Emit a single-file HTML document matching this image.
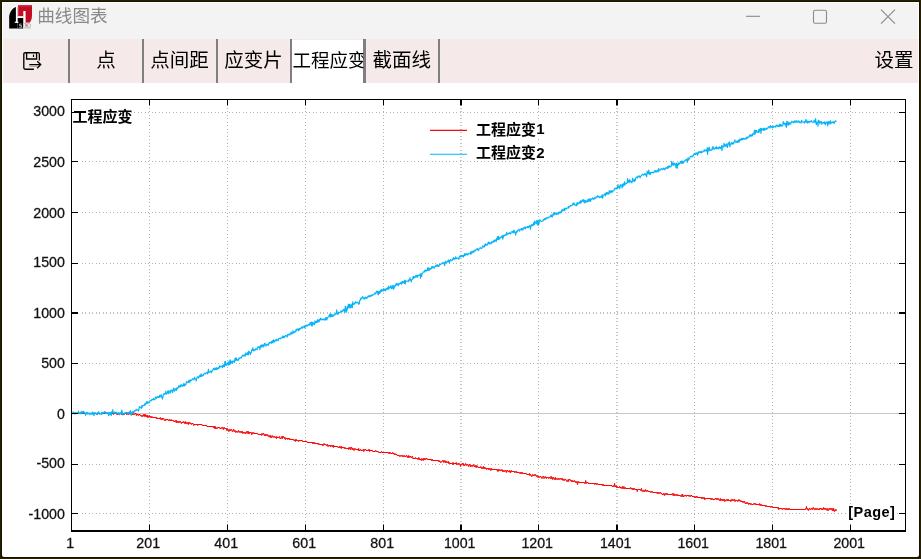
<!DOCTYPE html>
<html><head><meta charset="utf-8"><title>chart</title>
<style>
html,body{margin:0;padding:0;}
body{width:921px;height:559px;overflow:hidden;background:#262000;position:relative;font-family:"Liberation Sans",sans-serif;}
#b1{position:absolute;left:1px;top:1px;width:919px;height:557px;background:#161200;}
#win{position:absolute;left:2px;top:2px;width:917px;height:554.8px;background:#fff;border-radius:0 0 2px 2px;}
#tbar{position:absolute;left:3px;top:3px;width:915px;height:36px;background:#f3f3f3;}
#tool{position:absolute;left:3px;top:39px;width:915px;height:43.5px;background:#f5eae9;}
.sep{position:absolute;top:39px;width:2px;height:43.7px;background:#7f7f7f;}
#sel{position:absolute;left:292px;top:39.6px;width:71.5px;height:43px;background:#fff;}
svg{position:absolute;left:0;top:0;will-change:transform;}
</style></head><body>
<div id="b1"></div><div id="win"></div><div id="tbar"></div><div id="tool"></div>
<div id="sel"></div>
<div class="sep" style="left:68px"></div><div class="sep" style="left:142px"></div><div class="sep" style="left:216px"></div>
<div class="sep" style="left:290px"></div><div class="sep" style="left:363.3px;width:2.7px"></div><div class="sep" style="left:437.5px;width:2.4px"></div>
<svg width="921" height="559" viewBox="0 0 921 559">
<defs>
<clipPath id="cs"><rect x="292" y="39" width="71.4" height="44"/></clipPath>
</defs>
<!-- app icon -->
<g id="appicon">
<path d="M18.2 5H32V15C32 18.5 31.2 21 29.6 22.7H18.2Z" fill="#c30d23"/>
<rect x="18.2" y="5" width="13.8" height="1.5" fill="#cc3344"/>
<path d="M9.2 28.6V16.5C9.6 11.5 12.5 8.2 16 6.9H17.6V28.6Z" fill="#000"/>
<rect x="17.6" y="17.8" width="5.8" height="10.8" fill="#000"/>
<rect x="15.9" y="7" width="1.7" height="15.8" fill="#fff"/>
<rect x="14.8" y="21.7" width="3.6" height="1.2" fill="#fff"/>
<rect x="17.4" y="16.2" width="6.2" height="1.8" fill="#fff"/>
<rect x="23.3" y="11" width="2.3" height="11.8" fill="#fff"/>
<rect x="23.4" y="22.8" width="9" height="6" fill="#f3f3f3"/>
<path d="M21.6 24.1H19.6V25.5H21.4V27.2H19.2" fill="none" stroke="#e8e8e8" stroke-width="0.7"/>
<rect x="18.6" y="27.6" width="4.2" height="0.7" fill="#999"/>
<path d="M24.4 23.6H26.4V25.3H25.2H26.4V27.2H24.4M27.6 23.6V27.2H29.2Q30.4 27.2 30.4 25.4Q30.4 23.6 29.2 23.6Z" fill="none" stroke="#aaa" stroke-width="0.9"/>
<path d="M25.5 24.6L26.5 26.2" stroke="#d04050" stroke-width="0.8"/>
<rect x="24.2" y="27.7" width="6.8" height="0.8" fill="#c4c4c4"/>
</g>
<!-- title -->
<g><text x="37.2" y="22.4" font-family="'Liberation Sans','Noto Sans CJK SC',sans-serif" font-size="17.6" fill="#888">曲线图表</text></g>
<!-- window buttons -->
<g stroke="#8a8a8a" stroke-width="1.1" fill="none">
<line x1="746" x2="760" y1="16.3" y2="16.3"/>
<rect x="813.5" y="10.3" width="13" height="13" rx="1.6"/>
<path d="M881 9.7L895 23.7M895 9.7L881 23.7"/>
</g>
<!-- save icon -->
<g fill="none" stroke="#000" stroke-width="1.35">
<path d="M33.9 69.2H25.2Q23.8 69.2 23.8 67.8V54.1Q23.8 52.7 25.2 52.7H37.9Q39.3 52.7 39.3 54.1V60.4"/>
<path d="M26.6 52.8V59H36.6V52.8"/>
<path d="M29.3 64.6H40.3M37.2 61.2L40.7 64.6L37.2 68.3"/>
</g>
<rect x="32.9" y="54.6" width="1.2" height="2.4" fill="#000"/>
<rect x="37.3" y="53.4" width="1.3" height="6.6" fill="#b9afaf"/>
<line x1="29.3" x2="38" y1="66.3" y2="66.3" stroke="#a39a9a" stroke-width="1"/>
<!-- toolbar text -->
<g fill="#000" font-family="'Liberation Sans','Noto Sans CJK SC',sans-serif" font-size="19.5">
<text x="96.2" y="67">点</text>
<text x="150.3" y="67">点间距</text>
<text x="224.3" y="67">应变片</text>
<text x="372.5" y="67">截面线</text>
<text x="874.4" y="67">设置</text>
<g clip-path="url(#cs)"><text x="292.6" y="67" font-size="18.5">工程应变</text></g>
</g>
<!-- grid -->
<g shape-rendering="auto">
<line x1="82" x2="899" y1="112.5" y2="112.5" stroke="#b4b4b4" stroke-width="1" stroke-dasharray="1 2 1 3"/>
<line x1="82" x2="899" y1="161.5" y2="161.5" stroke="#b4b4b4" stroke-width="1" stroke-dasharray="1 2 1 3"/>
<line x1="82" x2="899" y1="212.5" y2="212.5" stroke="#b4b4b4" stroke-width="1" stroke-dasharray="1 2 1 3"/>
<line x1="82" x2="899" y1="263.5" y2="263.5" stroke="#b4b4b4" stroke-width="1" stroke-dasharray="1 2 1 3"/>
<line x1="82" x2="899" y1="313.0" y2="313.0" stroke="#c0c0c0" stroke-width="2" stroke-dasharray="1 2 1 3"/>
<line x1="82" x2="899" y1="363.5" y2="363.5" stroke="#b4b4b4" stroke-width="1" stroke-dasharray="1 2 1 3"/>
<line x1="72" x2="905" y1="413.5" y2="413.5" stroke="#c6c6c6" stroke-width="1"/>
<line x1="82" x2="899" y1="464.5" y2="464.5" stroke="#b4b4b4" stroke-width="1" stroke-dasharray="1 2 1 3"/>
<line x1="82" x2="899" y1="513.5" y2="513.5" stroke="#b4b4b4" stroke-width="1" stroke-dasharray="1 2 1 3"/>
<line x1="149.5" x2="149.5" y1="108" y2="524" stroke="#b4b4b4" stroke-width="1" stroke-dasharray="1 2 1 3"/>
<line x1="227.5" x2="227.5" y1="108" y2="524" stroke="#b4b4b4" stroke-width="1" stroke-dasharray="1 2 1 3"/>
<line x1="305.5" x2="305.5" y1="108" y2="524" stroke="#b4b4b4" stroke-width="1" stroke-dasharray="1 2 1 3"/>
<line x1="383.5" x2="383.5" y1="108" y2="524" stroke="#b4b4b4" stroke-width="1" stroke-dasharray="1 2 1 3"/>
<line x1="461.0" x2="461.0" y1="108" y2="524" stroke="#c6c6c6" stroke-width="2" stroke-dasharray="1 2 1 3"/>
<line x1="538.5" x2="538.5" y1="108" y2="524" stroke="#b4b4b4" stroke-width="1" stroke-dasharray="1 2 1 3"/>
<line x1="617.0" x2="617.0" y1="108" y2="524" stroke="#c6c6c6" stroke-width="2" stroke-dasharray="1 2 1 3"/>
<line x1="694.5" x2="694.5" y1="108" y2="524" stroke="#b4b4b4" stroke-width="1" stroke-dasharray="1 2 1 3"/>
<line x1="772.5" x2="772.5" y1="108" y2="524" stroke="#b4b4b4" stroke-width="1" stroke-dasharray="1 2 1 3"/>
<line x1="850.5" x2="850.5" y1="108" y2="524" stroke="#b4b4b4" stroke-width="1" stroke-dasharray="1 2 1 3"/>
</g>
<!-- curves -->
<path fill="none" stroke="#fb0505" stroke-width="1" d="M71.5 413.5H97.2V414.5H97.6V413.5H105.4V412.5H105.8V413.5H109.7V412.5H110.1V413.5H112.5V412.5H112.8V413.5H113.2V414.5H113.6V413.5H116.7V414.5H117.5V413.5H117.9V414.5H118.3V413.5H119.5V414.5H119.9V413.5H121.4V414.5H121.8V413.5H122.2V414.5H122.6V413.5H123.4V414.5H124.5V413.5H126.5V414.5H126.9V413.5H127.7V414.5H128.8V413.5H130.0V414.5H130.4V412.5H130.8V413.5H131.9V414.5H132.7V413.5H133.1V414.5H134.7V413.5H136.2V415.5H136.6V414.5H138.2V415.5H138.6V414.5H140.1V415.5H141.3V416.5H141.7V415.5H142.5V416.5H142.9V415.5H143.3V414.5H143.6V415.5H144.0V416.5H144.4V414.5H144.8V415.5H145.2V414.5H145.6V416.5H146.0V415.5H146.4V416.5H146.8V415.5H147.2V417.5H147.5V415.5H147.9V416.5H148.7V417.5H149.1V415.5H149.5V416.5H150.3V417.5H150.7V416.5H151.1V417.5H151.8V416.5H152.2V417.5H156.1V418.5H156.5V417.5H156.9V418.5H160.0V417.5H160.4V418.5H160.8V419.5H161.2V418.5H161.6V419.5H162.0V418.5H162.4V419.5H162.8V418.5H163.9V419.5H164.3V420.5H165.1V419.5H165.5V420.5H165.9V419.5H168.2V420.5H169.4V419.5H169.8V420.5H170.9V419.5H171.3V420.5H173.7V421.5H175.2V420.5H175.6V421.5H176.0V422.5H176.4V420.5H176.8V422.5H177.6V421.5H178.4V422.5H178.7V421.5H179.1V422.5H179.5V421.5H180.7V422.5H181.1V423.5H181.5V422.5H183.0V421.5H183.4V422.5H184.6V423.5H185.0V421.5H185.4V423.5H185.8V422.5H186.5V423.5H187.3V422.5H187.7V423.5H188.1V424.5H188.5V422.5H189.3V423.5H189.7V422.5H190.1V423.5H191.2V424.5H191.6V423.5H193.2V424.5H193.6V425.5H194.0V424.5H197.5V425.5H197.9V424.5H202.1V425.5H206.8V426.5H213.1V427.5H213.5V426.5H213.8V427.5H214.2V426.5H214.6V428.5H215.0V426.5H215.4V428.5H215.8V427.5H216.2V428.5H217.4V427.5H219.7V428.5H221.3V427.5H222.4V428.5H222.8V427.5H223.2V429.5H223.6V428.5H224.0V427.5H224.4V428.5H226.7V430.5H227.1V428.5H227.5V429.5H228.3V430.5H228.7V431.5H229.1V429.5H229.4V430.5H229.8V429.5H230.2V430.5H231.0V429.5H231.8V430.5H232.2V431.5H233.0V430.5H233.3V429.5H234.1V431.5H234.9V430.5H235.3V431.5H235.7V432.5H236.1V431.5H237.6V432.5H238.0V431.5H238.4V430.5H238.8V431.5H239.6V432.5H240.4V431.5H241.1V432.5H241.5V431.5H241.9V432.5H242.3V431.5H242.7V433.5H243.1V432.5H244.7V433.5H245.0V432.5H245.4V433.5H246.2V432.5H246.6V431.5H247.0V432.5H247.4V431.5H247.8V433.5H248.2V431.5H248.6V433.5H248.9V432.5H249.3V433.5H249.7V432.5H251.3V434.5H252.1V432.5H252.5V433.5H253.6V432.5H254.0V433.5H257.9V434.5H261.4V435.5H261.8V433.5H262.2V434.5H263.0V433.5H263.8V434.5H264.2V435.5H264.5V434.5H264.9V435.5H265.3V434.5H265.7V435.5H266.1V434.5H266.5V435.5H267.3V434.5H267.7V435.5H268.1V436.5H268.8V435.5H269.6V436.5H270.0V437.5H270.4V435.5H270.8V436.5H271.2V437.5H272.0V435.5H272.3V436.5H273.5V437.5H274.3V436.5H275.1V437.5H276.2V438.5H276.6V436.5H277.0V437.5H279.4V436.5H279.8V438.5H281.3V437.5H281.7V436.5H282.1V438.5H282.5V436.5H282.9V437.5H283.3V436.5H283.7V437.5H284.4V438.5H284.8V437.5H285.2V439.5H285.6V438.5H287.6V439.5H287.9V438.5H289.1V439.5H289.5V438.5H289.9V439.5H293.8V440.5H295.0V439.5H295.4V441.5H295.7V440.5H296.1V439.5H296.5V440.5H298.5V441.5H298.9V440.5H302.4V441.5H307.1V442.5H312.5V443.5H312.9V442.5H313.3V443.5H313.7V442.5H314.1V443.5H314.5V442.5H314.9V443.5H318.0V444.5H318.4V443.5H319.1V444.5H322.3V445.5H322.7V444.5H323.0V445.5H323.4V444.5H323.8V443.5H324.2V444.5H326.2V445.5H326.9V444.5H327.7V446.5H328.5V445.5H330.1V446.5H330.5V445.5H330.8V446.5H331.2V445.5H332.4V446.5H332.8V445.5H333.2V447.5H333.6V445.5H334.0V446.5H337.9V447.5H339.4V446.5H339.8V447.5H340.2V446.5H340.6V447.5H341.0V448.5H341.4V446.5H341.8V447.5H344.1V448.5H344.5V447.5H345.3V448.5H348.4V449.5H348.8V447.5H349.2V448.5H350.0V447.5H350.3V449.5H350.7V447.5H351.9V449.5H352.3V448.5H352.7V449.5H353.1V448.5H353.5V449.5H353.9V450.5H354.2V449.5H354.6V448.5H355.4V449.5H358.1V450.5H358.5V448.5H358.9V450.5H360.1V449.5H360.9V450.5H362.8V449.5H363.6V451.5H364.0V450.5H364.4V449.5H365.9V450.5H368.3V449.5H368.7V450.5H369.1V449.5H369.5V451.5H369.8V450.5H372.6V451.5H375.3V450.5H376.1V451.5H378.4V452.5H381.2V451.5H381.9V452.5H388.6V453.5H389.0V452.5H389.3V453.5H389.7V452.5H390.5V453.5H392.5V452.5H392.9V453.5H394.0V454.5H394.8V453.5H395.2V454.5H397.1V455.5H399.5V456.5H400.3V455.5H401.8V456.5H402.6V455.5H403.0V456.5H403.8V455.5H404.6V456.5H406.1V455.5H406.9V456.5H407.3V457.5H407.7V456.5H408.1V457.5H408.5V455.5H408.8V456.5H409.6V457.5H410.0V456.5H411.2V457.5H412.0V456.5H412.7V458.5H415.1V457.5H415.5V458.5H417.8V459.5H418.2V458.5H418.6V457.5H419.0V459.5H419.4V458.5H419.8V459.5H421.3V460.5H421.7V458.5H422.1V459.5H422.9V460.5H423.3V458.5H423.7V459.5H424.1V458.5H424.4V459.5H424.8V458.5H425.2V459.5H426.0V458.5H427.2V459.5H431.1V460.5H431.5V459.5H431.9V460.5H432.2V459.5H432.6V460.5H438.5V461.5H438.9V460.5H439.3V461.5H440.4V462.5H441.2V461.5H442.4V460.5H443.6V462.5H443.9V461.5H444.7V460.5H445.1V462.5H445.5V461.5H445.9V462.5H446.3V461.5H446.7V462.5H447.8V461.5H448.6V463.5H449.0V462.5H449.4V463.5H452.5V464.5H452.9V462.5H453.3V464.5H453.7V463.5H456.0V462.5H456.4V464.5H457.6V463.5H458.4V464.5H458.8V463.5H459.5V464.5H460.3V466.5H460.7V464.5H461.9V463.5H462.7V464.5H463.1V463.5H463.4V465.5H463.8V464.5H464.2V465.5H465.0V464.5H465.4V463.5H465.8V464.5H466.2V465.5H466.6V464.5H467.7V465.5H468.5V466.5H468.9V464.5H470.1V466.5H470.5V465.5H470.9V466.5H471.2V465.5H472.4V466.5H472.8V465.5H473.2V464.5H473.6V465.5H474.0V466.5H474.8V465.5H475.1V466.5H475.5V465.5H475.9V467.5H476.7V465.5H477.1V466.5H477.9V467.5H480.6V466.5H481.0V467.5H481.4V468.5H481.8V467.5H482.6V468.5H483.3V466.5H483.7V468.5H484.1V467.5H484.5V468.5H484.9V467.5H485.3V468.5H486.5V469.5H486.8V468.5H488.4V469.5H488.8V468.5H489.2V469.5H489.6V468.5H490.7V470.5H491.1V469.5H491.5V468.5H491.9V469.5H497.0V470.5H497.4V469.5H497.8V471.5H498.2V469.5H498.5V470.5H499.7V469.5H500.1V470.5H501.7V469.5H502.1V470.5H502.4V471.5H502.8V470.5H503.2V471.5H503.6V470.5H504.4V471.5H505.2V470.5H506.0V471.5H506.3V472.5H506.7V470.5H507.9V471.5H509.5V470.5H509.9V472.5H510.2V471.5H510.6V472.5H511.0V470.5H511.4V471.5H514.5V472.5H514.9V471.5H515.7V472.5H516.5V471.5H516.9V472.5H519.6V473.5H520.4V472.5H520.8V473.5H521.2V472.5H521.6V473.5H522.3V472.5H522.7V473.5H526.6V474.5H529.4V473.5H529.7V475.5H530.1V474.5H530.9V475.5H531.3V476.5H532.1V475.5H532.5V474.5H532.9V475.5H534.0V474.5H534.4V475.5H535.2V474.5H535.6V475.5H536.4V476.5H536.8V475.5H537.5V476.5H537.9V477.5H538.3V476.5H538.7V477.5H539.5V476.5H541.1V477.5H541.8V478.5H542.2V477.5H542.6V476.5H543.8V478.5H544.2V477.5H545.0V476.5H545.3V477.5H546.1V478.5H546.5V477.5H548.5V478.5H548.9V477.5H550.0V478.5H550.8V476.5H551.6V478.5H552.0V477.5H552.4V479.5H552.8V478.5H553.5V477.5H553.9V478.5H554.3V479.5H555.1V477.5H555.5V479.5H556.3V478.5H557.4V479.5H558.2V478.5H558.6V479.5H559.4V478.5H560.9V479.5H561.3V478.5H561.7V479.5H562.5V478.5H562.9V480.5H563.3V479.5H564.5V480.5H564.8V479.5H566.0V480.5H566.8V481.5H567.6V480.5H568.0V479.5H568.4V481.5H568.7V480.5H569.1V479.5H570.3V480.5H571.1V481.5H571.5V480.5H571.9V481.5H572.6V480.5H573.0V481.5H574.2V480.5H574.6V481.5H575.4V482.5H575.8V481.5H576.2V482.5H576.9V481.5H577.3V484.5H577.7V482.5H578.5V481.5H578.9V482.5H584.7V483.5H585.1V482.5H585.5V480.5H585.9V483.5H586.3V482.5H588.2V483.5H594.5V484.5H594.9V483.5H596.0V484.5H596.4V483.5H597.6V484.5H602.3V485.5H602.7V484.5H603.1V485.5H603.5V484.5H603.8V485.5H612.0V486.5H613.6V485.5H614.0V486.5H614.4V483.5H614.8V486.5H615.9V485.5H616.3V487.5H616.7V486.5H617.1V487.5H619.4V486.5H619.8V487.5H621.0V488.5H621.4V487.5H622.2V486.5H622.6V488.5H623.7V486.5H624.1V488.5H624.9V487.5H625.3V488.5H630.4V487.5H630.8V488.5H631.9V489.5H632.3V488.5H632.7V489.5H633.1V488.5H633.5V489.5H633.9V488.5H634.7V489.5H637.0V491.5H637.4V489.5H640.5V490.5H641.3V488.5H641.7V490.5H642.1V491.5H642.5V490.5H643.6V491.5H644.0V490.5H644.4V491.5H645.2V489.5H645.6V490.5H646.4V491.5H647.1V490.5H647.9V491.5H650.6V492.5H651.4V491.5H652.6V492.5H656.9V493.5H657.3V492.5H658.1V493.5H658.4V492.5H658.8V493.5H659.6V492.5H660.8V493.5H662.0V494.5H663.5V493.5H663.9V494.5H664.3V495.5H664.7V493.5H665.5V494.5H666.2V493.5H666.6V494.5H667.0V493.5H667.4V494.5H672.1V493.5H672.5V494.5H672.9V495.5H673.7V493.5H674.0V494.5H674.4V495.5H674.8V494.5H675.6V495.5H676.4V494.5H676.8V495.5H677.6V494.5H677.9V495.5H680.7V496.5H681.5V495.5H681.8V494.5H682.2V496.5H682.6V494.5H683.0V496.5H684.2V495.5H686.1V496.5H686.5V495.5H688.9V496.5H689.3V495.5H690.4V496.5H690.8V495.5H692.0V496.5H694.3V497.5H694.7V496.5H695.1V497.5H695.9V496.5H696.7V497.5H697.1V496.5H697.4V497.5H701.3V498.5H701.7V497.5H702.1V498.5H702.5V497.5H703.3V498.5H703.7V497.5H704.5V499.5H705.2V498.5H710.7V499.5H711.1V498.5H711.5V499.5H712.3V498.5H712.7V499.5H715.0V498.5H716.2V499.5H716.6V498.5H717.3V499.5H717.7V498.5H718.5V499.5H719.3V500.5H720.1V498.5H720.5V500.5H721.2V499.5H722.0V500.5H722.4V499.5H722.8V500.5H723.2V499.5H723.6V500.5H724.0V499.5H724.7V501.5H725.1V500.5H726.3V499.5H726.7V500.5H727.5V499.5H727.9V500.5H728.3V499.5H728.6V500.5H730.6V501.5H731.0V499.5H731.4V500.5H732.2V499.5H732.5V500.5H733.7V499.5H734.1V500.5H734.5V499.5H734.9V501.5H735.3V500.5H737.6V501.5H738.0V500.5H738.8V499.5H739.2V500.5H740.0V501.5H740.7V500.5H741.1V501.5H742.7V502.5H743.1V501.5H743.9V502.5H744.2V501.5H745.0V503.5H746.2V502.5H746.6V503.5H747.4V502.5H747.8V503.5H748.5V504.5H748.9V503.5H750.1V504.5H750.5V503.5H751.3V504.5H753.6V503.5H754.8V504.5H755.6V503.5H755.9V504.5H759.5V503.5H759.8V505.5H760.2V504.5H760.6V505.5H761.4V504.5H761.8V505.5H765.3V506.5H765.7V505.5H766.5V506.5H770.8V507.5H771.2V506.5H772.7V507.5H777.8V508.5H778.2V507.5H778.6V509.5H779.0V508.5H782.1V509.5H782.9V508.5H784.8V509.5H785.6V508.5H786.0V509.5H786.4V508.5H787.1V509.5H787.9V508.5H788.3V509.5H789.1V508.5H789.5V509.5H805.5V508.5H806.3V506.5H806.6V508.5H807.0V509.5H807.4V508.5H807.8V509.5H808.2V510.5H808.6V509.5H809.0V508.5H809.8V509.5H810.9V508.5H812.1V509.5H812.9V507.5H813.3V508.5H814.1V509.5H814.8V508.5H815.2V509.5H815.6V508.5H816.4V509.5H816.8V508.5H817.6V509.5H819.1V508.5H819.5V509.5H819.9V508.5H821.1V509.5H821.5V508.5H822.2V509.5H823.0V508.5H823.4V507.5H823.8V509.5H824.2V508.5H825.0V509.5H825.4V508.5H826.5V509.5H826.9V510.5H827.3V509.5H827.7V508.5H828.1V510.5H828.5V509.5H829.3V508.5H829.7V509.5H830.0V508.5H830.8V509.5H831.6V508.5H832.0V510.5H832.8V508.5H833.2V510.5H833.6V508.5H833.9V510.5H834.3V511.5H834.7V510.5H835.5V509.5H835.9V510.5H836.3V509.5H836.3"/>
<polyline fill="none" stroke="#08b4f8" stroke-width="1.15" stroke-linejoin="round" points="71.5,413.6 71.9,413.1 72.3,413.4 72.7,413.7 73.1,411.9 73.5,413.0 73.8,413.3 74.2,413.9 74.6,413.1 75.0,412.5 75.4,413.2 75.8,413.9 76.2,412.6 76.6,413.5 77.0,413.3 77.4,412.8 77.7,412.8 78.1,413.1 78.5,411.2 78.9,413.3 79.3,413.1 79.7,413.2 80.1,413.3 80.5,412.0 80.9,414.0 81.3,413.5 81.6,412.7 82.0,411.2 82.4,412.8 82.8,412.6 83.2,412.1 83.6,411.4 84.0,412.9 84.4,412.3 84.8,413.4 85.2,413.9 85.5,415.5 85.9,413.5 86.3,412.4 86.7,413.5 87.1,413.8 87.5,412.5 87.9,414.0 88.3,413.1 88.7,413.7 89.1,413.3 89.4,413.1 89.8,414.6 90.2,414.3 90.6,413.3 91.0,413.8 91.4,413.0 91.8,414.2 92.2,413.2 92.6,412.0 93.0,414.4 93.3,414.7 93.7,412.8 94.1,415.6 94.5,412.5 94.9,412.9 95.3,412.9 95.7,413.2 96.1,413.1 96.5,414.5 96.9,413.7 97.2,413.8 97.6,412.6 98.0,413.4 98.4,413.2 98.8,411.6 99.2,413.4 99.6,414.0 100.0,414.3 100.4,413.5 100.8,413.7 101.1,413.0 101.5,412.9 101.9,414.5 102.3,412.1 102.7,413.5 103.1,413.5 103.5,412.8 103.9,412.5 104.3,411.7 104.7,411.6 105.0,413.1 105.4,411.8 105.8,413.4 106.2,412.6 106.6,413.4 107.0,412.6 107.4,412.9 107.8,413.1 108.2,412.7 108.6,415.6 108.9,412.8 109.3,413.5 109.7,412.9 110.1,414.9 110.5,412.5 110.9,413.4 111.3,415.5 111.7,411.7 112.1,412.5 112.5,411.9 112.8,409.5 113.2,413.0 113.6,412.6 114.0,412.6 114.4,413.0 114.8,412.1 115.2,413.4 115.6,413.0 116.0,412.1 116.4,412.8 116.7,412.7 117.1,413.1 117.5,413.1 117.9,413.8 118.3,413.0 118.7,412.5 119.1,413.1 119.5,414.8 119.9,413.2 120.3,412.8 120.6,413.6 121.0,412.5 121.4,413.6 121.8,410.1 122.2,411.6 122.6,413.4 123.0,415.1 123.4,414.3 123.8,414.0 124.2,413.0 124.5,412.9 124.9,413.3 125.3,412.7 125.7,413.0 126.1,412.5 126.5,412.8 126.9,412.4 127.3,412.4 127.7,413.8 128.1,413.1 128.4,412.6 128.8,412.4 129.2,412.9 129.6,411.7 130.0,413.4 130.4,410.6 130.8,414.4 131.2,415.4 131.6,412.6 131.9,413.4 132.3,411.7 132.7,412.4 133.1,411.5 133.5,412.4 133.9,412.9 134.3,411.4 134.7,410.6 135.1,411.0 135.5,410.5 135.8,410.2 136.2,409.2 136.6,410.2 137.0,410.0 137.4,409.9 137.8,409.8 138.2,410.7 138.6,411.0 139.0,408.7 139.4,407.1 139.7,406.5 140.1,407.5 140.5,407.7 140.9,408.0 141.3,408.3 141.7,405.7 142.1,407.4 142.5,405.6 142.9,405.6 143.3,405.6 143.6,405.3 144.0,405.4 144.4,403.8 144.8,405.4 145.2,404.8 145.6,403.5 146.0,404.0 146.4,401.6 146.8,402.1 147.2,403.5 147.5,401.7 147.9,402.5 148.3,402.9 148.7,402.2 149.1,403.0 149.5,402.1 149.9,401.0 150.3,400.4 150.7,401.0 151.1,400.6 151.4,400.4 151.8,399.4 152.2,400.0 152.6,399.3 153.0,399.7 153.4,398.4 153.8,399.4 154.2,399.6 154.6,399.9 155.0,399.3 155.3,397.0 155.7,397.3 156.1,398.0 156.5,398.4 156.9,397.2 157.3,396.4 157.7,397.5 158.1,397.5 158.5,396.7 158.9,396.8 159.2,397.3 159.6,395.3 160.0,397.1 160.4,396.0 160.8,396.1 161.2,394.5 161.6,397.1 162.0,396.4 162.4,399.2 162.8,397.5 163.1,396.2 163.5,394.2 163.9,393.6 164.3,393.5 164.7,394.1 165.1,394.1 165.5,393.2 165.9,391.2 166.3,394.3 166.7,393.5 167.0,393.6 167.4,392.8 167.8,390.9 168.2,392.5 168.6,393.6 169.0,390.7 169.4,391.3 169.8,391.7 170.2,393.1 170.6,391.0 170.9,390.2 171.3,390.9 171.7,389.8 172.1,390.9 172.5,392.6 172.9,391.4 173.3,390.3 173.7,388.1 174.1,389.0 174.5,391.1 174.8,391.0 175.2,388.8 175.6,389.1 176.0,388.9 176.4,390.4 176.8,387.9 177.2,389.0 177.6,387.8 178.0,387.9 178.4,387.1 178.7,385.9 179.1,387.3 179.5,386.5 179.9,385.7 180.3,385.5 180.7,387.0 181.1,384.4 181.5,385.9 181.9,385.9 182.3,385.9 182.6,385.0 183.0,386.3 183.4,385.6 183.8,383.3 184.2,385.5 184.6,385.8 185.0,384.1 185.4,385.1 185.8,384.3 186.2,383.8 186.5,381.5 186.9,381.7 187.3,382.0 187.7,382.7 188.1,382.5 188.5,381.4 188.9,380.3 189.3,380.5 189.7,382.6 190.1,380.1 190.4,380.9 190.8,379.9 191.2,380.5 191.6,380.2 192.0,380.0 192.4,378.9 192.8,378.6 193.2,379.1 193.6,379.4 194.0,379.8 194.3,378.2 194.7,377.3 195.1,378.8 195.5,379.1 195.9,379.1 196.3,380.9 196.7,378.0 197.1,377.5 197.5,376.9 197.9,376.7 198.2,378.1 198.6,377.4 199.0,377.2 199.4,376.0 199.8,375.4 200.2,376.6 200.6,376.5 201.0,373.9 201.4,374.6 201.8,376.4 202.1,375.2 202.5,376.0 202.9,375.0 203.3,375.3 203.7,373.9 204.1,374.0 204.5,373.4 204.9,373.6 205.3,373.9 205.7,373.4 206.0,372.9 206.4,372.9 206.8,372.5 207.2,372.2 207.6,374.0 208.0,373.1 208.4,369.2 208.8,371.9 209.2,371.8 209.6,372.5 209.9,371.9 210.3,371.8 210.7,371.0 211.1,371.0 211.5,372.6 211.9,371.4 212.3,370.8 212.7,370.5 213.1,369.8 213.5,368.3 213.8,368.8 214.2,368.9 214.6,369.8 215.0,367.9 215.4,369.6 215.8,369.2 216.2,369.4 216.6,367.7 217.0,369.7 217.4,368.5 217.7,368.3 218.1,368.5 218.5,367.5 218.9,368.5 219.3,366.8 219.7,365.7 220.1,367.1 220.5,366.3 220.9,366.5 221.3,366.5 221.6,366.7 222.0,365.9 222.4,367.8 222.8,365.4 223.2,365.2 223.6,366.7 224.0,364.7 224.4,366.8 224.8,361.7 225.2,364.8 225.5,361.4 225.9,365.4 226.3,364.6 226.7,363.9 227.1,365.1 227.5,363.1 227.9,362.6 228.3,362.9 228.7,365.2 229.1,361.1 229.4,361.8 229.8,364.4 230.2,359.7 230.6,364.0 231.0,361.2 231.4,361.6 231.8,362.9 232.2,361.2 232.6,363.3 233.0,361.4 233.3,360.9 233.7,361.2 234.1,361.6 234.5,362.4 234.9,358.6 235.3,358.3 235.7,360.7 236.1,357.6 236.5,358.7 236.9,359.5 237.2,360.4 237.6,359.5 238.0,359.6 238.4,360.3 238.8,358.1 239.2,358.8 239.6,358.3 240.0,357.9 240.4,357.8 240.8,357.6 241.1,358.1 241.5,356.8 241.9,356.3 242.3,355.8 242.7,355.2 243.1,356.1 243.5,355.3 243.9,355.7 244.3,354.7 244.7,355.5 245.0,356.2 245.4,355.0 245.8,352.8 246.2,354.5 246.6,354.3 247.0,354.6 247.4,352.8 247.8,354.7 248.2,351.8 248.6,354.8 248.9,351.0 249.3,352.1 249.7,352.8 250.1,353.0 250.5,354.7 250.9,352.0 251.3,352.3 251.7,349.8 252.1,350.1 252.5,350.5 252.8,347.9 253.2,350.0 253.6,351.0 254.0,349.7 254.4,349.6 254.8,350.3 255.2,350.0 255.6,348.7 256.0,349.1 256.4,349.3 256.7,349.1 257.1,349.7 257.5,347.5 257.9,347.2 258.3,346.9 258.7,347.5 259.1,346.6 259.5,346.7 259.9,349.7 260.3,347.0 260.6,345.3 261.0,346.9 261.4,347.0 261.8,344.8 262.2,346.8 262.6,345.8 263.0,344.7 263.4,346.3 263.8,347.0 264.2,345.1 264.5,343.7 264.9,343.0 265.3,344.7 265.7,345.2 266.1,346.1 266.5,345.3 266.9,344.2 267.3,345.0 267.7,345.0 268.1,344.0 268.4,345.3 268.8,343.8 269.2,342.5 269.6,343.2 270.0,342.3 270.4,342.6 270.8,342.6 271.2,341.7 271.6,343.4 272.0,342.4 272.3,340.7 272.7,341.8 273.1,342.8 273.5,339.7 273.9,341.5 274.3,342.0 274.7,340.9 275.1,340.3 275.5,339.9 275.9,341.1 276.2,340.6 276.6,339.2 277.0,340.0 277.4,339.8 277.8,340.1 278.2,340.8 278.6,338.9 279.0,338.2 279.4,338.2 279.8,338.2 280.1,338.7 280.5,338.0 280.9,338.6 281.3,338.0 281.7,337.7 282.1,337.8 282.5,336.0 282.9,337.3 283.3,337.4 283.7,336.1 284.0,337.9 284.4,336.6 284.8,337.1 285.2,335.8 285.6,335.4 286.0,335.8 286.4,335.8 286.8,335.7 287.2,337.1 287.6,334.4 287.9,335.3 288.3,334.4 288.7,334.1 289.1,334.8 289.5,334.0 289.9,335.0 290.3,333.6 290.7,333.7 291.1,332.1 291.5,332.8 291.8,334.2 292.2,333.6 292.6,333.3 293.0,330.7 293.4,332.3 293.8,333.0 294.2,332.4 294.6,331.5 295.0,332.0 295.4,331.9 295.7,331.1 296.1,329.4 296.5,330.9 296.9,329.8 297.3,328.9 297.7,329.1 298.1,329.4 298.5,330.8 298.9,328.9 299.3,328.3 299.6,329.8 300.0,328.6 300.4,328.9 300.8,328.5 301.2,327.6 301.6,328.0 302.0,326.5 302.4,328.3 302.8,327.7 303.2,327.1 303.5,327.1 303.9,326.1 304.3,326.7 304.7,328.0 305.1,325.6 305.5,326.8 305.9,325.4 306.3,325.1 306.7,325.9 307.1,325.4 307.4,325.9 307.8,325.2 308.2,324.4 308.6,324.7 309.0,324.9 309.4,324.1 309.8,325.1 310.2,322.3 310.6,323.1 311.0,322.9 311.3,325.3 311.7,322.1 312.1,326.1 312.5,323.6 312.9,322.2 313.3,324.1 313.7,323.7 314.1,323.0 314.5,324.8 314.9,320.8 315.2,321.9 315.6,322.8 316.0,322.6 316.4,321.1 316.8,322.4 317.2,322.3 317.6,319.6 318.0,322.0 318.4,319.8 318.8,321.2 319.1,321.8 319.5,319.8 319.9,319.6 320.3,318.1 320.7,319.8 321.1,318.6 321.5,319.6 321.9,320.0 322.3,319.5 322.7,319.6 323.0,319.1 323.4,319.0 323.8,319.3 324.2,319.9 324.6,319.0 325.0,320.2 325.4,317.9 325.8,319.6 326.2,317.5 326.6,318.5 326.9,320.0 327.3,317.7 327.7,317.8 328.1,317.0 328.5,316.7 328.9,316.3 329.3,315.2 329.7,314.3 330.1,317.1 330.5,313.9 330.8,316.8 331.2,316.1 331.6,316.4 332.0,314.2 332.4,316.0 332.8,316.6 333.2,316.2 333.6,315.0 334.0,315.1 334.4,315.2 334.7,314.5 335.1,314.9 335.5,313.6 335.9,313.1 336.3,313.8 336.7,309.9 337.1,312.7 337.5,314.5 337.9,314.5 338.3,313.6 338.6,312.1 339.0,312.8 339.4,312.8 339.8,312.5 340.2,312.0 340.6,312.2 341.0,310.8 341.4,311.3 341.8,311.0 342.2,311.7 342.5,310.7 342.9,310.8 343.3,309.9 343.7,309.3 344.1,309.8 344.5,312.1 344.9,309.8 345.3,306.2 345.7,308.7 346.1,312.6 346.4,308.7 346.8,311.2 347.2,306.5 347.6,309.2 348.0,306.8 348.4,304.1 348.8,306.8 349.2,307.8 349.6,304.3 350.0,306.4 350.3,306.9 350.7,308.0 351.1,304.0 351.5,306.2 351.9,306.7 352.3,307.8 352.7,301.9 353.1,304.4 353.5,304.6 353.9,303.8 354.2,304.1 354.6,303.0 355.0,303.7 355.4,301.9 355.8,301.8 356.2,302.9 356.6,302.5 357.0,302.7 357.4,302.6 357.8,302.1 358.1,302.6 358.5,304.1 358.9,303.6 359.3,303.9 359.7,300.2 360.1,300.5 360.5,300.0 360.9,297.8 361.3,299.0 361.7,298.0 362.0,297.9 362.4,297.2 362.8,296.6 363.2,298.1 363.6,298.7 364.0,297.8 364.4,299.0 364.8,299.1 365.2,297.7 365.6,297.1 365.9,297.4 366.3,298.2 366.7,297.3 367.1,298.1 367.5,297.4 367.9,296.6 368.3,295.8 368.7,296.9 369.1,296.2 369.5,296.5 369.8,295.5 370.2,296.6 370.6,295.9 371.0,295.3 371.4,296.1 371.8,294.9 372.2,295.0 372.6,295.5 373.0,294.7 373.4,294.7 373.7,294.7 374.1,294.0 374.5,293.0 374.9,293.3 375.3,294.0 375.7,293.9 376.1,292.1 376.5,291.5 376.9,291.2 377.3,292.6 377.6,291.3 378.0,294.7 378.4,294.7 378.8,291.6 379.2,291.5 379.6,293.5 380.0,292.9 380.4,290.1 380.8,291.8 381.2,291.7 381.5,289.6 381.9,290.0 382.3,289.9 382.7,290.9 383.1,291.2 383.5,288.7 383.9,290.3 384.3,289.0 384.7,290.3 385.1,289.4 385.4,290.8 385.8,289.7 386.2,288.6 386.6,289.6 387.0,288.8 387.4,287.8 387.8,288.7 388.2,289.5 388.6,286.1 389.0,287.6 389.3,288.1 389.7,288.1 390.1,287.0 390.5,287.3 390.9,285.3 391.3,288.4 391.7,288.7 392.1,288.5 392.5,285.8 392.9,288.0 393.2,285.2 393.6,289.2 394.0,288.0 394.4,287.2 394.8,285.5 395.2,286.2 395.6,284.6 396.0,285.2 396.4,283.4 396.8,284.9 397.1,284.2 397.5,284.3 397.9,283.4 398.3,285.6 398.7,285.0 399.1,284.4 399.5,283.3 399.9,283.4 400.3,283.4 400.7,283.0 401.0,282.2 401.4,284.4 401.8,282.0 402.2,281.6 402.6,283.2 403.0,281.6 403.4,281.6 403.8,282.7 404.2,283.3 404.6,280.1 404.9,283.3 405.3,283.8 405.7,280.7 406.1,281.2 406.5,281.3 406.9,281.2 407.3,281.2 407.7,281.1 408.1,281.7 408.5,281.6 408.8,279.7 409.2,279.7 409.6,280.3 410.0,277.5 410.4,280.0 410.8,279.6 411.2,282.2 411.6,279.5 412.0,279.5 412.4,279.2 412.7,278.9 413.1,276.3 413.5,278.5 413.9,276.8 414.3,277.8 414.7,276.8 415.1,277.5 415.5,275.8 415.9,275.6 416.3,275.3 416.6,276.2 417.0,277.4 417.4,276.5 417.8,275.1 418.2,276.0 418.6,275.2 419.0,275.2 419.4,275.3 419.8,274.7 420.2,274.1 420.5,278.3 420.9,273.8 421.3,273.7 421.7,276.4 422.1,273.2 422.5,273.0 422.9,272.9 423.3,272.1 423.7,271.8 424.1,271.9 424.4,270.8 424.8,272.0 425.2,269.8 425.6,270.8 426.0,271.2 426.4,270.6 426.8,270.5 427.2,269.8 427.6,267.8 428.0,270.6 428.3,268.6 428.7,267.9 429.1,270.4 429.5,269.9 429.9,268.5 430.3,269.3 430.7,268.5 431.1,268.1 431.5,268.7 431.9,266.4 432.2,267.9 432.6,267.4 433.0,266.6 433.4,267.2 433.8,267.7 434.2,268.2 434.6,267.5 435.0,266.2 435.4,266.2 435.8,265.2 436.1,266.3 436.5,265.1 436.9,266.1 437.3,264.8 437.7,265.8 438.1,266.3 438.5,265.9 438.9,266.4 439.3,264.3 439.7,265.1 440.0,264.3 440.4,264.5 440.8,264.3 441.2,263.8 441.6,263.8 442.0,263.2 442.4,262.5 442.8,263.0 443.2,263.7 443.6,263.4 443.9,262.6 444.3,263.9 444.7,265.7 445.1,262.1 445.5,261.4 445.9,262.8 446.3,262.7 446.7,261.9 447.1,262.2 447.5,261.0 447.8,261.5 448.2,261.3 448.6,259.9 449.0,261.8 449.4,262.9 449.8,261.4 450.2,260.0 450.6,259.5 451.0,260.6 451.4,260.7 451.7,260.8 452.1,260.4 452.5,259.2 452.9,259.3 453.3,257.6 453.7,258.9 454.1,259.6 454.5,258.4 454.9,258.0 455.3,258.8 455.6,256.9 456.0,258.2 456.4,258.8 456.8,257.9 457.2,257.9 457.6,258.1 458.0,258.0 458.4,258.7 458.8,259.4 459.2,258.0 459.5,256.4 459.9,256.6 460.3,255.6 460.7,256.8 461.1,256.2 461.5,255.5 461.9,256.4 462.3,255.7 462.7,256.2 463.1,255.3 463.4,257.1 463.8,255.6 464.2,255.4 464.6,253.6 465.0,255.7 465.4,254.9 465.8,254.8 466.2,253.5 466.6,254.7 467.0,254.4 467.3,254.4 467.7,255.0 468.1,253.3 468.5,253.7 468.9,253.9 469.3,253.7 469.7,253.7 470.1,253.6 470.5,251.9 470.9,254.3 471.2,253.4 471.6,252.9 472.0,251.0 472.4,252.7 472.8,252.4 473.2,252.4 473.6,250.8 474.0,251.9 474.4,251.3 474.8,251.2 475.1,249.6 475.5,250.6 475.9,250.2 476.3,249.8 476.7,249.3 477.1,248.5 477.5,249.6 477.9,248.8 478.3,250.5 478.7,250.3 479.0,248.7 479.4,248.7 479.8,248.3 480.2,247.4 480.6,248.2 481.0,248.2 481.4,248.4 481.8,248.4 482.2,247.1 482.6,246.0 482.9,246.5 483.3,247.1 483.7,246.4 484.1,245.7 484.5,246.9 484.9,244.9 485.3,243.7 485.7,245.5 486.1,245.1 486.5,244.7 486.8,244.5 487.2,245.1 487.6,243.6 488.0,243.0 488.4,242.0 488.8,243.4 489.2,244.2 489.6,242.3 490.0,242.9 490.4,243.4 490.7,243.6 491.1,243.8 491.5,241.9 491.9,242.1 492.3,241.8 492.7,242.6 493.1,241.7 493.5,241.2 493.9,240.4 494.3,242.0 494.6,241.7 495.0,239.7 495.4,240.3 495.8,240.0 496.2,241.6 496.6,238.6 497.0,240.0 497.4,236.7 497.8,238.7 498.2,239.6 498.5,236.3 498.9,239.2 499.3,238.5 499.7,238.9 500.1,237.3 500.5,237.6 500.9,237.9 501.3,236.4 501.7,236.2 502.1,237.2 502.4,235.5 502.8,239.1 503.2,237.4 503.6,235.4 504.0,236.1 504.4,235.5 504.8,235.4 505.2,234.6 505.6,235.5 506.0,235.4 506.3,234.1 506.7,232.4 507.1,233.9 507.5,234.3 507.9,234.3 508.3,233.5 508.7,233.6 509.1,232.9 509.5,233.5 509.9,232.7 510.2,233.7 510.6,234.0 511.0,233.0 511.4,232.3 511.8,231.5 512.2,231.5 512.6,232.4 513.0,231.3 513.4,231.1 513.8,232.9 514.1,230.0 514.5,231.1 514.9,232.1 515.3,232.8 515.7,235.1 516.1,232.2 516.5,232.3 516.9,230.8 517.3,232.0 517.7,230.2 518.0,230.2 518.4,229.9 518.8,229.2 519.2,229.6 519.6,231.1 520.0,230.0 520.4,229.6 520.8,229.1 521.2,228.7 521.6,228.4 521.9,230.1 522.3,229.6 522.7,228.7 523.1,229.8 523.5,227.8 523.9,228.5 524.3,227.4 524.7,227.4 525.1,227.1 525.5,228.9 525.8,227.2 526.2,227.5 526.6,227.3 527.0,227.5 527.4,226.6 527.8,226.5 528.2,227.7 528.6,226.5 529.0,227.0 529.4,226.2 529.7,225.6 530.1,226.8 530.5,229.3 530.9,225.4 531.3,225.9 531.7,224.6 532.1,225.4 532.5,224.7 532.9,225.7 533.3,225.1 533.6,222.5 534.0,224.3 534.4,224.6 534.8,220.9 535.2,222.5 535.6,222.9 536.0,223.4 536.4,222.5 536.8,220.7 537.2,224.1 537.5,224.9 537.9,220.1 538.3,225.2 538.7,224.8 539.1,223.1 539.5,219.8 539.9,220.6 540.3,220.1 540.7,220.8 541.1,221.3 541.4,221.5 541.8,221.5 542.2,221.3 542.6,221.0 543.0,221.0 543.4,219.4 543.8,219.7 544.2,220.0 544.6,218.5 545.0,218.9 545.3,218.3 545.7,219.6 546.1,218.5 546.5,217.6 546.9,217.9 547.3,218.1 547.7,218.0 548.1,217.2 548.5,217.6 548.9,217.7 549.2,217.1 549.6,217.0 550.0,216.6 550.4,215.7 550.8,216.3 551.2,214.7 551.6,216.8 552.0,216.7 552.4,216.9 552.8,214.3 553.1,215.2 553.5,212.9 553.9,214.9 554.3,214.3 554.7,212.5 555.1,214.1 555.5,214.1 555.9,213.0 556.3,213.6 556.7,214.6 557.0,212.8 557.4,213.1 557.8,213.7 558.2,212.9 558.6,214.1 559.0,211.8 559.4,213.0 559.8,212.3 560.2,212.8 560.6,213.0 560.9,211.4 561.3,212.4 561.7,211.2 562.1,209.4 562.5,210.3 562.9,211.0 563.3,210.0 563.7,210.3 564.1,208.6 564.5,209.1 564.8,210.7 565.2,208.2 565.6,208.6 566.0,208.4 566.4,209.0 566.8,208.4 567.2,208.1 567.6,207.9 568.0,207.6 568.4,206.5 568.7,208.2 569.1,206.7 569.5,206.8 569.9,206.6 570.3,205.4 570.7,205.9 571.1,205.3 571.5,205.6 571.9,205.6 572.3,205.0 572.6,204.7 573.0,203.1 573.4,204.4 573.8,203.3 574.2,203.0 574.6,205.0 575.0,204.9 575.4,204.9 575.8,205.4 576.2,206.0 576.5,203.9 576.9,203.3 577.3,202.5 577.7,205.0 578.1,202.9 578.5,202.9 578.9,203.0 579.3,202.8 579.7,201.8 580.1,203.6 580.4,201.4 580.8,200.6 581.2,202.6 581.6,201.5 582.0,201.6 582.4,199.8 582.8,201.0 583.2,199.9 583.6,201.5 584.0,199.7 584.3,203.0 584.7,200.5 585.1,202.6 585.5,201.2 585.9,200.6 586.3,202.1 586.7,201.2 587.1,201.6 587.5,201.1 587.9,199.5 588.2,201.7 588.6,200.4 589.0,198.9 589.4,201.1 589.8,198.7 590.2,200.8 590.6,201.3 591.0,199.2 591.4,199.3 591.8,198.6 592.1,199.0 592.5,197.9 592.9,198.6 593.3,198.8 593.7,199.5 594.1,198.2 594.5,197.7 594.9,198.7 595.3,198.3 595.7,198.0 596.0,196.5 596.4,197.2 596.8,197.1 597.2,196.7 597.6,195.7 598.0,197.0 598.4,196.2 598.8,196.4 599.2,196.6 599.6,197.8 599.9,197.2 600.3,196.8 600.7,196.5 601.1,197.0 601.5,197.3 601.9,195.0 602.3,194.9 602.7,198.2 603.1,195.6 603.5,195.0 603.8,195.2 604.2,194.7 604.6,194.7 605.0,193.5 605.4,195.8 605.8,194.0 606.2,192.6 606.6,193.3 607.0,194.2 607.4,192.5 607.7,193.0 608.1,194.1 608.5,194.1 608.9,192.6 609.3,190.6 609.7,193.3 610.1,191.7 610.5,192.3 610.9,190.7 611.3,190.9 611.6,190.9 612.0,192.6 612.4,191.8 612.8,190.6 613.2,190.7 613.6,190.9 614.0,190.2 614.4,189.2 614.8,188.2 615.2,188.6 615.5,188.8 615.9,189.0 616.3,187.7 616.7,188.7 617.1,188.9 617.5,187.7 617.9,184.6 618.3,186.6 618.7,187.7 619.1,186.3 619.4,186.6 619.8,188.8 620.2,184.7 620.6,185.4 621.0,184.7 621.4,186.3 621.8,186.4 622.2,188.0 622.6,184.3 623.0,186.4 623.3,184.1 623.7,183.7 624.1,185.4 624.5,181.7 624.9,184.8 625.3,183.9 625.7,183.4 626.1,183.3 626.5,183.6 626.9,182.9 627.2,183.0 627.6,178.5 628.0,182.1 628.4,180.6 628.8,181.7 629.2,182.6 629.6,179.7 630.0,180.7 630.4,181.9 630.8,181.2 631.1,181.8 631.5,182.2 631.9,182.9 632.3,180.3 632.7,178.0 633.1,181.2 633.5,180.4 633.9,180.7 634.3,179.5 634.7,181.7 635.0,179.0 635.4,180.2 635.8,177.9 636.2,177.2 636.6,177.0 637.0,177.3 637.4,178.0 637.8,176.7 638.2,176.1 638.6,176.8 638.9,175.9 639.3,176.7 639.7,176.2 640.1,177.9 640.5,176.3 640.9,176.3 641.3,175.7 641.7,175.2 642.1,175.0 642.5,174.0 642.8,174.4 643.2,174.4 643.6,175.2 644.0,174.9 644.4,173.9 644.8,173.6 645.2,174.2 645.6,173.9 646.0,175.6 646.4,175.6 646.7,176.8 647.1,171.1 647.5,172.5 647.9,173.7 648.3,173.2 648.7,170.0 649.1,173.9 649.5,172.2 649.9,174.6 650.3,174.6 650.6,172.6 651.0,172.4 651.4,172.7 651.8,172.9 652.2,172.2 652.6,172.4 653.0,172.5 653.4,172.6 653.8,172.9 654.2,171.4 654.5,170.9 654.9,171.5 655.3,170.5 655.7,172.1 656.1,172.2 656.5,171.2 656.9,170.5 657.3,171.1 657.7,170.4 658.1,172.1 658.4,169.4 658.8,168.6 659.2,169.7 659.6,170.7 660.0,170.3 660.4,169.7 660.8,169.6 661.2,168.5 661.6,169.1 662.0,168.9 662.3,169.7 662.7,168.8 663.1,169.0 663.5,168.2 663.9,168.5 664.3,169.8 664.7,168.9 665.1,169.3 665.5,167.9 665.9,168.5 666.2,167.8 666.6,168.0 667.0,167.8 667.4,166.9 667.8,168.7 668.2,166.5 668.6,166.0 669.0,167.5 669.4,165.8 669.8,166.4 670.1,166.6 670.5,166.7 670.9,166.8 671.3,166.1 671.7,161.3 672.1,164.3 672.5,165.0 672.9,163.0 673.3,165.4 673.7,163.0 674.0,164.6 674.4,163.3 674.8,163.3 675.2,165.2 675.6,164.4 676.0,167.7 676.4,163.1 676.8,165.8 677.2,168.4 677.6,164.0 677.9,164.1 678.3,162.8 678.7,165.0 679.1,164.0 679.5,163.8 679.9,163.1 680.3,161.7 680.7,162.0 681.1,163.2 681.5,161.1 681.8,161.1 682.2,163.1 682.6,161.1 683.0,163.5 683.4,162.0 683.8,162.1 684.2,161.4 684.6,160.9 685.0,161.1 685.4,160.0 685.7,160.1 686.1,159.3 686.5,160.2 686.9,159.7 687.3,162.4 687.7,159.2 688.1,157.6 688.5,160.2 688.9,159.0 689.3,158.9 689.6,158.8 690.0,157.1 690.4,156.4 690.8,156.5 691.2,156.5 691.6,156.2 692.0,156.9 692.4,156.9 692.8,155.5 693.2,155.9 693.5,154.8 693.9,154.2 694.3,153.7 694.7,154.4 695.1,154.0 695.5,154.5 695.9,152.9 696.3,153.8 696.7,153.1 697.1,152.7 697.4,155.2 697.8,154.2 698.2,153.9 698.6,151.8 699.0,152.6 699.4,152.1 699.8,151.7 700.2,152.4 700.6,152.6 701.0,151.3 701.3,152.9 701.7,151.6 702.1,152.3 702.5,151.7 702.9,151.8 703.3,151.3 703.7,150.7 704.1,150.1 704.5,151.1 704.9,149.6 705.2,150.7 705.6,150.5 706.0,151.0 706.4,151.1 706.8,149.8 707.2,147.6 707.6,154.4 708.0,148.8 708.4,148.9 708.8,151.0 709.1,147.2 709.5,147.8 709.9,150.4 710.3,150.3 710.7,150.1 711.1,150.4 711.5,149.9 711.9,149.9 712.3,147.6 712.7,149.1 713.0,146.4 713.4,148.8 713.8,149.1 714.2,149.1 714.6,149.1 715.0,147.7 715.4,148.6 715.8,147.8 716.2,146.7 716.6,148.9 716.9,147.2 717.3,148.5 717.7,148.5 718.1,148.0 718.5,147.4 718.9,148.8 719.3,147.7 719.7,146.8 720.1,147.2 720.5,148.3 720.8,148.3 721.2,148.8 721.6,145.6 722.0,150.6 722.4,146.0 722.8,147.2 723.2,146.6 723.6,146.8 724.0,143.3 724.4,146.1 724.7,144.6 725.1,146.0 725.5,145.0 725.9,146.3 726.3,144.3 726.7,143.8 727.1,146.5 727.5,147.5 727.9,145.2 728.3,143.0 728.6,144.2 729.0,142.5 729.4,141.9 729.8,146.8 730.2,144.8 730.6,143.9 731.0,144.6 731.4,143.0 731.8,142.6 732.2,143.6 732.5,143.9 732.9,142.6 733.3,143.0 733.7,144.0 734.1,142.1 734.5,141.5 734.9,139.8 735.3,141.5 735.7,142.3 736.1,142.0 736.4,142.3 736.8,141.1 737.2,140.9 737.6,142.3 738.0,142.3 738.4,140.2 738.8,141.6 739.2,142.0 739.6,139.1 740.0,140.2 740.3,140.2 740.7,139.3 741.1,139.6 741.5,138.2 741.9,140.2 742.3,139.8 742.7,138.5 743.1,139.1 743.5,138.2 743.9,138.8 744.2,139.4 744.6,138.8 745.0,138.7 745.4,138.1 745.8,138.2 746.2,139.2 746.6,137.7 747.0,137.1 747.4,138.2 747.8,137.0 748.1,137.1 748.5,137.3 748.9,137.4 749.3,136.1 749.7,135.0 750.1,136.0 750.5,134.8 750.9,136.3 751.3,134.9 751.7,134.8 752.0,136.1 752.4,135.7 752.8,133.6 753.2,133.9 753.6,133.5 754.0,134.1 754.4,130.2 754.8,134.3 755.2,133.6 755.6,130.3 755.9,132.7 756.3,130.5 756.7,130.8 757.1,131.9 757.5,131.9 757.9,132.5 758.3,131.9 758.7,129.5 759.1,132.3 759.5,129.5 759.8,130.7 760.2,128.3 760.6,129.3 761.0,133.5 761.4,128.5 761.8,128.8 762.2,129.3 762.6,129.8 763.0,128.9 763.4,130.5 763.7,128.5 764.1,128.0 764.5,130.0 764.9,128.7 765.3,129.8 765.7,128.8 766.1,129.2 766.5,128.0 766.9,129.2 767.3,128.4 767.6,128.0 768.0,128.0 768.4,127.0 768.8,126.7 769.2,127.1 769.6,127.0 770.0,128.1 770.4,125.6 770.8,126.4 771.2,126.8 771.5,126.5 771.9,127.5 772.3,126.4 772.7,128.0 773.1,126.0 773.5,126.8 773.9,127.1 774.3,126.6 774.7,126.7 775.1,126.4 775.4,126.3 775.8,127.2 776.2,125.5 776.6,125.3 777.0,124.9 777.4,125.7 777.8,126.4 778.2,125.6 778.6,126.4 779.0,126.5 779.3,125.0 779.7,124.4 780.1,126.4 780.5,124.2 780.9,125.8 781.3,125.1 781.7,125.2 782.1,126.3 782.5,125.7 782.9,124.7 783.2,121.5 783.6,123.7 784.0,123.9 784.4,123.1 784.8,123.5 785.2,125.1 785.6,123.5 786.0,126.3 786.4,127.4 786.8,121.4 787.1,121.9 787.5,124.7 787.9,121.8 788.3,125.2 788.7,124.8 789.1,122.7 789.5,124.1 789.9,122.9 790.3,123.7 790.7,124.2 791.0,122.6 791.4,122.4 791.8,121.2 792.2,122.1 792.6,121.8 793.0,121.8 793.4,122.7 793.8,121.9 794.2,121.6 794.6,122.5 794.9,120.8 795.3,121.8 795.7,121.0 796.1,122.3 796.5,120.9 796.9,121.3 797.3,122.1 797.7,122.0 798.1,121.1 798.5,121.9 798.8,120.8 799.2,121.3 799.6,122.7 800.0,122.3 800.4,122.1 800.8,122.0 801.2,123.2 801.6,120.4 802.0,121.5 802.4,121.6 802.7,121.7 803.1,122.0 803.5,122.0 803.9,122.5 804.3,123.2 804.7,121.5 805.1,122.2 805.5,121.5 805.9,119.3 806.3,122.2 806.6,120.7 807.0,121.0 807.4,123.2 807.8,121.3 808.2,121.3 808.6,121.8 809.0,122.9 809.4,121.2 809.8,121.2 810.2,121.7 810.5,121.6 810.9,121.9 811.3,120.7 811.7,121.2 812.1,121.8 812.5,122.2 812.9,122.4 813.3,122.1 813.7,122.0 814.1,120.7 814.4,120.4 814.8,122.3 815.2,120.8 815.6,118.5 816.0,123.3 816.4,124.6 816.8,122.0 817.2,123.4 817.6,122.3 818.0,126.2 818.3,120.2 818.7,122.1 819.1,120.9 819.5,121.2 819.9,123.9 820.3,121.9 820.7,122.0 821.1,122.5 821.5,121.5 821.9,124.4 822.2,122.9 822.6,122.7 823.0,122.8 823.4,122.3 823.8,122.7 824.2,123.6 824.6,121.8 825.0,122.5 825.4,124.8 825.8,122.5 826.1,123.1 826.5,122.6 826.9,121.6 827.3,123.5 827.7,125.9 828.1,123.0 828.5,121.5 828.9,122.6 829.3,124.0 829.7,121.8 830.0,121.6 830.4,120.7 830.8,123.9 831.2,122.7 831.6,122.6 832.0,122.1 832.4,122.7 832.8,122.2 833.2,121.7 833.6,123.0 833.9,122.1 834.3,123.3 834.7,122.2 835.1,121.0 835.5,121.0 835.9,120.8 836.3,121.8"/>
<!-- frame -->
<g stroke="#000" stroke-width="1" fill="none">
<line x1="71.5" x2="71.5" y1="99" y2="532"/>
<line x1="71" x2="906" y1="99.5" y2="99.5"/>
<line x1="905.5" x2="905.5" y1="99" y2="532"/>
<line x1="71" x2="906" y1="531" y2="531" stroke-width="2"/>
<line x1="72" x2="78" y1="112.5" y2="112.5"/>
<line x1="899" x2="905" y1="112.5" y2="112.5"/>
<line x1="72" x2="78" y1="161.5" y2="161.5"/>
<line x1="899" x2="905" y1="161.5" y2="161.5"/>
<line x1="72" x2="78" y1="212.5" y2="212.5"/>
<line x1="899" x2="905" y1="212.5" y2="212.5"/>
<line x1="72" x2="78" y1="263.5" y2="263.5"/>
<line x1="899" x2="905" y1="263.5" y2="263.5"/>
<line x1="72" x2="78" y1="313.0" y2="313.0" stroke-width="2"/>
<line x1="899" x2="905" y1="313.0" y2="313.0" stroke-width="2"/>
<line x1="72" x2="78" y1="363.5" y2="363.5"/>
<line x1="899" x2="905" y1="363.5" y2="363.5"/>
<line x1="72" x2="78" y1="413.5" y2="413.5"/>
<line x1="899" x2="905" y1="413.5" y2="413.5"/>
<line x1="72" x2="78" y1="464.5" y2="464.5"/>
<line x1="899" x2="905" y1="464.5" y2="464.5"/>
<line x1="72" x2="78" y1="513.5" y2="513.5"/>
<line x1="899" x2="905" y1="513.5" y2="513.5"/>
<line x1="149.5" x2="149.5" y1="100" y2="105.5"/>
<line x1="149.5" x2="149.5" y1="524.5" y2="530"/>
<line x1="227.5" x2="227.5" y1="100" y2="105.5"/>
<line x1="227.5" x2="227.5" y1="524.5" y2="530"/>
<line x1="305.5" x2="305.5" y1="100" y2="105.5"/>
<line x1="305.5" x2="305.5" y1="524.5" y2="530"/>
<line x1="383.5" x2="383.5" y1="100" y2="105.5"/>
<line x1="383.5" x2="383.5" y1="524.5" y2="530"/>
<line x1="461.0" x2="461.0" y1="100" y2="105.5" stroke-width="2"/>
<line x1="461.0" x2="461.0" y1="524.5" y2="530" stroke-width="2"/>
<line x1="538.5" x2="538.5" y1="100" y2="105.5"/>
<line x1="538.5" x2="538.5" y1="524.5" y2="530"/>
<line x1="617.0" x2="617.0" y1="100" y2="105.5" stroke-width="2"/>
<line x1="617.0" x2="617.0" y1="524.5" y2="530" stroke-width="2"/>
<line x1="694.5" x2="694.5" y1="100" y2="105.5"/>
<line x1="694.5" x2="694.5" y1="524.5" y2="530"/>
<line x1="772.5" x2="772.5" y1="100" y2="105.5"/>
<line x1="772.5" x2="772.5" y1="524.5" y2="530"/>
<line x1="850.5" x2="850.5" y1="100" y2="105.5"/>
<line x1="850.5" x2="850.5" y1="524.5" y2="530"/>
</g>
<!-- labels -->
<g font-family="Liberation Sans" font-size="14.2" fill="#111" stroke="#111" stroke-width="0.28">
<text x="64.9" y="115.7" text-anchor="end">3000</text>
<text x="64.9" y="166.6" text-anchor="end">2500</text>
<text x="64.9" y="217.5" text-anchor="end">2000</text>
<text x="64.9" y="266.9" text-anchor="end">1500</text>
<text x="64.9" y="317.6" text-anchor="end">1000</text>
<text x="64.9" y="367.5" text-anchor="end">500</text>
<text x="64.9" y="418.5" text-anchor="end">0</text>
<text x="64.9" y="467.9" text-anchor="end">-500</text>
<text x="64.9" y="518.5" text-anchor="end">-1000</text>
<text x="70.2" y="547.6" text-anchor="middle">1</text>
<text x="148.2" y="547.6" text-anchor="middle">201</text>
<text x="226.2" y="547.6" text-anchor="middle">401</text>
<text x="304.2" y="547.6" text-anchor="middle">601</text>
<text x="382.2" y="547.6" text-anchor="middle">801</text>
<text x="459.7" y="547.6" text-anchor="middle">1001</text>
<text x="537.2" y="547.6" text-anchor="middle">1201</text>
<text x="615.7" y="547.6" text-anchor="middle">1401</text>
<text x="693.2" y="547.6" text-anchor="middle">1601</text>
<text x="771.2" y="547.6" text-anchor="middle">1801</text>
<text x="849.2" y="547.6" text-anchor="middle">2001</text>
</g>
<!-- chart title -->
<g fill="#000"><text x="72.5" y="121.5" font-family="'Liberation Sans','Noto Sans CJK SC',sans-serif" font-size="15" font-weight="bold">工程应变</text></g>
<!-- legend -->
<rect x="475" y="121.3" width="71" height="15.6" fill="#fff"/><rect x="475" y="145.6" width="71" height="15" fill="#fff"/>
<line x1="430" x2="467" y1="130.4" y2="130.4" stroke="#f20a0a" stroke-width="1.1"/>
<line x1="430" x2="467" y1="154.3" y2="154.3" stroke="#00b6fb" stroke-width="1.1"/>
<g fill="#000" font-family="'Liberation Sans','Noto Sans CJK SC',sans-serif" font-size="15" font-weight="bold"><text x="476" y="134.5">工程应变</text><text x="476" y="158.3">工程应变</text></g>
<g font-family="Liberation Sans" font-size="15" font-weight="bold" fill="#000">
<text x="536.2" y="133.8">1</text><text x="536.2" y="157.8">2</text>
</g>
<!-- [Page] -->
<rect x="847" y="505" width="50" height="17.5" fill="#fff"/>
<text x="848.3" y="517.4" font-family="Liberation Sans" font-size="14.5" font-weight="bold" letter-spacing="0.45" fill="#000">[Page]</text>
</svg>
</body></html>
